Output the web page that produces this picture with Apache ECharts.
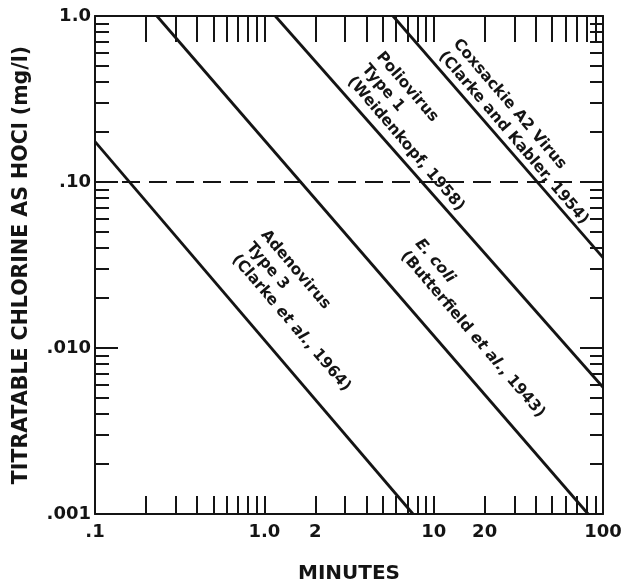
<!DOCTYPE html>
<html>
<head>
<meta charset="utf-8">
<script src="https://cdn.jsdelivr.net/npm/echarts@6/dist/echarts.min.js"></script>
<style>
  html, body { margin: 0; padding: 0; background: #fff; }
  #chart { width: 622px; height: 586px; }
</style>
</head>
<body>
<div id="chart"></div>
<script>
// 每条线只取两个端点（分钟, mg/l），log-log 坐标下为直线
const adenoMinutes = [0.1, 7.55]
const adenoChlorine = [0.175, 0.001]
const ecoliMinutes = [0.232, 81.7]
const ecoliChlorine = [1.0, 0.001]
const polioMinutes = [1.16, 100]
const polioChlorine = [1.0, 0.0058]
const coxMinutes = [5.75, 100]
const coxChlorine = [1.0, 0.035]

// 虚线参考浓度
const refMinutes = [0.1, 100]
const refChlorine = [0.1, 0.1]

// 刻度标签
const xLabelValues = [0.1, 1, 2, 10, 20, 100]
const xTickLabels = ['.1', '1.0', '2', '10', '20', '100']
const yLabelValues = [0.001, 0.01, 0.1, 1]
const yTickLabels = ['.001', '.010', '.10', '1.0']

// 小刻度：每个数量级的 2..9
const steps = [2, 3, 4, 5, 6, 7, 8, 9]
const xMinorTicks = [0.1, 1, 10].flatMap(d => steps.map(k => k * d)).concat([1, 10])
const yMinorTicks = [0.001, 0.01, 0.1].flatMap(d => steps.map(k => k * d))
const yMajorTicks = [0.01, 0.1]

const ink = '#141414'
const font = 'DejaVu Sans'

// 曲线旁的说明文字，at 为文字左上角所在的数据坐标
const curveLabels = [
  { at: [1.09, 0.0543], text: 'Adenovirus\nType 3\n(Clarke {i|et al.}, 1964)' },
  { at: [8.9, 0.048], text: '{i|E. coli}\n(Butterfield {i|et al.}, 1943)' },
  { at: [5.25, 0.642], text: 'Poliovirus\nType 1\n(Weidenkopf, 1958)' },
  { at: [14.9, 0.768], text: 'Coxsackie A2 Virus\n(Clarke and Kabler, 1954)' }
]
const labelAngle = 49.5

const pickLabel = (values, labels) => v => {
  const i = values.findIndex(t => Math.abs(Math.log10(t) - Math.log10(v)) < 1e-6)
  return i < 0 ? '' : labels[i]
}

const logAxis = (extra) => Object.assign({
  type: 'log',
  logBase: 10,
  axisLine: { show: true, onZero: false, lineStyle: { color: ink, width: 2 } },
  splitLine: { show: false },
  minorTick: { show: false },
  axisLabel: { show: false },
  axisTick: { show: true, inside: true, lineStyle: { color: ink, width: 2 } }
}, extra)

const labelStyle = { color: ink, fontFamily: font, fontWeight: 'bold', fontSize: 18 }

const toPairs = (xs, ys) => xs.map((v, i) => [v, ys[i]])

const curves = [
  toPairs(adenoMinutes, adenoChlorine),
  toPairs(ecoliMinutes, ecoliChlorine),
  toPairs(polioMinutes, polioChlorine),
  toPairs(coxMinutes, coxChlorine)
]

const option = {
  animation: false,
  backgroundColor: '#fff',
  grid: { left: 95, right: 19, top: 16, bottom: 72, containLabel: false, outerBoundsMode: 'none' },
  xAxis: [
    logAxis({
      position: 'bottom', min: 0.1, max: 100,
      axisTick: { show: true, inside: true, length: 18, customValues: xMinorTicks, lineStyle: { color: ink, width: 2 } },
      axisLabel: Object.assign({ show: true, margin: 9, customValues: xLabelValues,
        formatter: pickLabel(xLabelValues, xTickLabels) }, labelStyle),
      name: 'MINUTES', nameLocation: 'middle', nameGap: 50,
      nameTextStyle: { color: ink, fontFamily: font, fontWeight: 'bold', fontSize: 20 }
    }),
    logAxis({
      position: 'top', min: 0.1, max: 100,
      axisTick: { show: true, inside: true, length: 26, customValues: xMinorTicks, lineStyle: { color: ink, width: 2 } }
    })
  ],
  yAxis: [
    logAxis({
      position: 'left', min: 0.001, max: 1,
      axisTick: { show: true, inside: true, length: 14, customValues: yMinorTicks, lineStyle: { color: ink, width: 2 } },
      axisLabel: Object.assign({ show: true, margin: 4, customValues: yLabelValues,
        formatter: pickLabel(yLabelValues, yTickLabels) }, labelStyle),
      name: 'TITRATABLE CHLORINE AS HOCl (mg/l)', nameLocation: 'middle', nameGap: 63, nameRotate: 90,
      nameTextStyle: { color: ink, fontFamily: font, fontWeight: 'bold', fontSize: 20.5 }
    }),
    logAxis({
      position: 'right', min: 0.001, max: 1,
      axisTick: { show: true, inside: true, length: 13, customValues: yMinorTicks, lineStyle: { color: ink, width: 2 } }
    }),
    logAxis({
      position: 'left', min: 0.001, max: 1,
      axisLine: { show: false },
      axisTick: { show: true, inside: true, length: 23, customValues: yMajorTicks, lineStyle: { color: ink, width: 2 } }
    }),
    logAxis({
      position: 'right', min: 0.001, max: 1,
      axisLine: { show: false },
      axisTick: { show: true, inside: true, length: 23, customValues: yMajorTicks, lineStyle: { color: ink, width: 2 } }
    })
  ],
  series: curves.map(data => ({
    type: 'line',
    data: data,
    symbol: 'none',
    silent: true,
    lineStyle: { color: ink, width: 2.8 }
  })).concat([{
    type: 'line',
    data: toPairs(refMinutes, refChlorine),
    symbol: 'none',
    silent: true,
    lineStyle: { color: ink, width: 2, type: [18, 9] }
  }])
}

const chart = echarts.init(document.getElementById('chart'))
chart.setOption(option)

const italic = { fontStyle: 'italic', fontFamily: font, fontWeight: 'bold', fontSize: 15.5, lineHeight: 19, fill: ink }
chart.setOption({
  graphic: curveLabels.map(l => {
    const p = chart.convertToPixel({ seriesIndex: 0 }, l.at)
    return {
      type: 'text',
      x: p[0],
      y: p[1],
      rotation: -labelAngle * Math.PI / 180,
      silent: true,
      style: {
        text: l.text,
        fill: ink,
        fontFamily: font,
        fontWeight: 'bold',
        fontSize: 15.5,
        lineHeight: 19,
        align: 'left',
        verticalAlign: 'top',
        rich: { i: italic }
      }
    }
  })
})
</script>
</body>
</html>
